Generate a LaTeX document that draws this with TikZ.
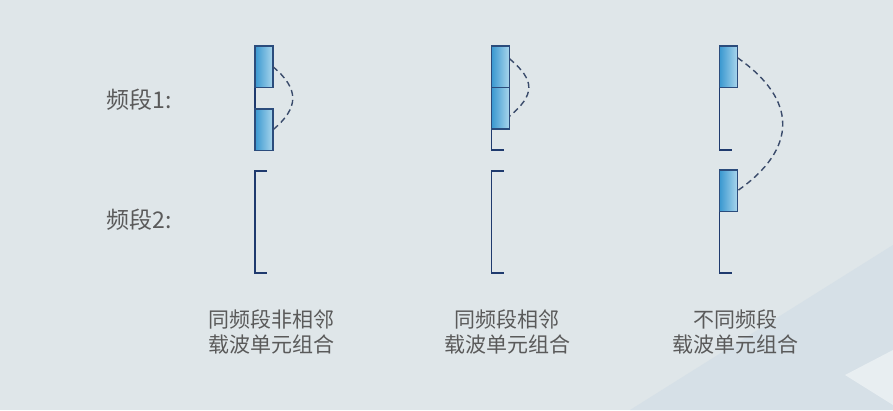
\documentclass[tikz,border=0pt]{standalone}
\usepackage{fontspec}
\setmainfont{Noto Sans CJK SC}
\usepackage{xcolor}
\usetikzlibrary{positioning,calc}

\definecolor{bgcolor}{HTML}{DFE6E9}
\definecolor{bgdark}{HTML}{D6E0E7}
\definecolor{bglight}{HTML}{E8EEF1}
\definecolor{boxleft}{HTML}{3A98D0}
\definecolor{boxright}{HTML}{AAD6EC}
\definecolor{boxline}{HTML}{2B4C7C}
\definecolor{bandline}{HTML}{1F3A6E}
\definecolor{linkline}{HTML}{3A4B6B}
\definecolor{labeltext}{HTML}{5A5A5A}

\begin{document}
\begin{tikzpicture}[
    x=1pt, y=1pt,
    node distance=0pt,
    carrier/.style={rectangle, draw=boxline, line width=1.1pt, left color=boxleft, right color=boxright, minimum width=18pt, minimum height=41.5pt, inner sep=0pt, outer sep=0pt, anchor=north west},
    band/.style={draw=bandline, line width=1.5pt},
    link/.style={draw=linkline, line width=1.4pt, dash pattern=on 6pt off 4pt},
    bandname/.style={text=labeltext, font=\fontsize{23}{27}\selectfont, anchor=west},
    combo/.style={text=labeltext, font=\fontsize{21}{25}\selectfont, align=center}
]
    % background
    \fill[bgcolor] (0,0) rectangle (893,410);
    \fill[bgdark] (893,165) -- (630,0) -- (893,0) -- cycle;
    \fill[bglight] (845,35) -- (893,60) -- (893,5) -- cycle;

    % band ends
    \coordinate (t11) at (255,364);
    \coordinate (e11) at (255,260);
    \coordinate (t12) at (255,239);
    \coordinate (e12) at (255,137);
    \coordinate (t21) at (491.5,364);
    \coordinate (e21) at (491.5,260);
    \coordinate (t22) at (491.5,239);
    \coordinate (e22) at (491.5,137);
    \coordinate (t31) at (719.5,364);
    \coordinate (e31) at (719.5,260);
    \coordinate (t32) at (719.5,240);
    \coordinate (e32) at (719.5,137);

    \draw[band] (t11) -- (e11);
    \draw[band] (t12) ++(12,0) -- (t12) -- (e12) -- ++(12,0);
    \draw[band] (t21) -- (e21) -- ++(12,0);
    \draw[band] (t22) ++(12,0) -- (t22) -- (e22) -- ++(12,0);
    \draw[band] (t31) -- (e31) -- ++(12,0);
    \draw[band] (t32) -- (e32) -- ++(12,0);

    % carriers
    \node[carrier] (c1a) at (t11) {};
    \node[carrier] (c1b) at (255,301) {};
    \node[carrier] (c2a) at (t21) {};
    \node[carrier, below=of c2a] (c2b) {};
    \node[carrier] (c3a) at (t31) {};
    \node[carrier] (c3b) at (t32) {};

    \draw[link] (c1a.east) to[out=-40, in=40, looseness=1.4] (c1b.east);
    \draw[link] ($(c2a.east)+(0,8)$) to[out=-40, in=40, looseness=1.5] ($(c2b.east)+(0,-8)$);
    \draw[link] ($(c3a.east)+(0,9)$) to[out=-35, in=35, looseness=1.42] (c3b.east);

    % labels
    \node[bandname] (f1) at (103,310) {频段1:};
    \node[bandname] (f2) at (103,190) {频段2:};
    \node[combo] (n1) at (271,78) {同频段非相邻\\载波单元组合};
    \node[combo] (n2) at (507,78) {同频段相邻\\载波单元组合};
    \node[combo] (n3) at (735,78) {不同频段\\载波单元组合};
\end{tikzpicture}
\end{document}
